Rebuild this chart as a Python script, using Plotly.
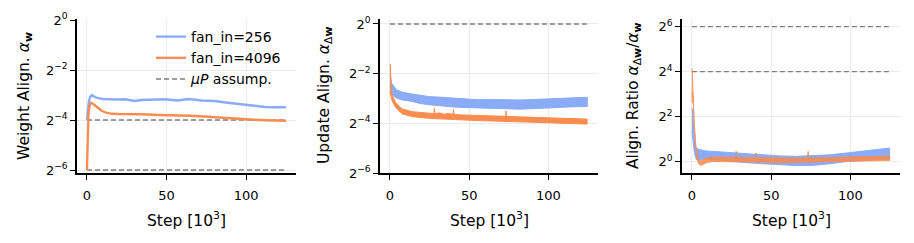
import plotly.graph_objects as go

# ---------------- data (values read as base-2 exponents) ----------------
# Panel 1: weight alignment
w256_steps = [0, 0.5, 1.2, 2, 3, 5, 7, 10, 13.4, 18, 24, 30, 34, 40, 49, 57, 64, 72, 80, 87, 93, 99, 106, 112, 118, 125]
w256_log2 = [-4.0, -3.6, -3.25, -3.08, -3.0, -3.08, -3.13, -3.16, -3.17, -3.18, -3.17, -3.24, -3.2, -3.19, -3.17,
             -3.22, -3.16, -3.22, -3.24, -3.3, -3.35, -3.4, -3.44, -3.48, -3.49, -3.49]
w4096_steps = [0, 0.4, 1, 1.6, 2.5, 4, 5.5, 7, 9, 11.3, 13.5, 15.5, 20, 27, 34, 45, 55, 65, 76, 86, 97, 105, 112, 118, 125]
w4096_log2 = [-6.0, -4.6, -3.75, -3.42, -3.31, -3.36, -3.45, -3.53, -3.62, -3.69, -3.73, -3.75, -3.76, -3.78, -3.77,
              -3.8, -3.81, -3.83, -3.87, -3.92, -3.97, -3.99, -4.01, -4.02, -4.03]

# Panel 2: update alignment (noisy band: upper / lower envelopes)
u256_steps = [0.2, 1.0, 4.2, 8, 14, 19, 24.4, 30, 34.8, 40, 45.2, 50, 55.6, 61, 66, 71, 76.4, 82, 86.8, 92, 97.3, 102,
              107.7, 113, 118, 124.5]
u256_upper = [-2.05, -2.38, -2.65, -2.75, -2.82, -2.88, -2.92, -2.94, -2.96, -2.99, -3.01, -3.02, -3.05, -3.04, -3.05,
              -3.04, -3.05, -3.06, -3.05, -3.04, -3.02, -3.0, -2.99, -2.97, -2.96, -2.95]
u256_lower = [-2.5, -2.83, -2.99, -3.06, -3.12, -3.2, -3.25, -3.29, -3.32, -3.34, -3.36, -3.38, -3.39, -3.41, -3.42,
              -3.41, -3.42, -3.43, -3.42, -3.41, -3.39, -3.38, -3.36, -3.34, -3.32, -3.32]

u4096_steps = [0.0, 0.3, 0.8, 1.4, 3.5, 7.7, 14, 24.4, 27.8, 28.1, 28.4, 31, 33, 34.8, 36, 39.8, 40.1, 40.4, 45, 55.6,
               66, 73.1, 73.3, 73.5, 76.4, 87, 97.3, 110, 124.4]
u4096_upper = [-1.61, -1.7, -2.65, -2.86, -3.15, -3.42, -3.53, -3.6, -3.61, -3.39, -3.62, -3.58, -3.6, -3.64, -3.6,
               -3.64, -3.43, -3.64, -3.66, -3.69, -3.71, -3.72, -3.5, -3.72, -3.73, -3.75, -3.79, -3.81, -3.83]
u4096_lower = [-2.75, -2.85, -2.92, -3.1, -3.35, -3.62, -3.73, -3.8, -3.81, -3.81, -3.81, -3.82, -3.83, -3.84, -3.84,
               -3.85, -3.85, -3.85, -3.86, -3.89, -3.91, -3.92, -3.92, -3.92, -3.93, -3.95, -3.99, -4.01, -4.03]

# Panel 3: alignment ratio (noisy band: upper / lower envelopes)
r256_steps = [0.0, 0.3, 1.5, 2.7, 4.2, 6.3, 9.4, 13.6, 24, 34.6, 45, 55.5, 66, 76.5, 87, 97.5, 108, 118.4, 124.7]
r256_upper = [2.38, 2.3, 1.0, 0.6, 0.55, 0.5, 0.47, 0.45, 0.4, 0.33, 0.28, 0.25, 0.23, 0.25, 0.3, 0.38, 0.47, 0.55, 0.6]
r256_lower = [1.34, 1.2, 0.4, 0.1, 0.05, 0.1, 0.1, 0.08, 0.02, -0.05, -0.1, -0.15, -0.18, -0.17, -0.1, 0.0, 0.05, 0.1, 0.1]

r4096_steps = [0.0, 0.3, 0.7, 1.5, 2.7, 4.2, 5.5, 7, 9.4, 13.6, 24, 27.7, 27.9, 28.1, 34.6, 40.3, 40.5, 40.7, 45, 55.5,
               66, 73.1, 73.3, 73.5, 76.5, 87, 97.5, 108, 118, 124.7]
r4096_upper = [4.16, 4.0, 3.1, 1.7, 0.5, 0.1, 0.02, 0.08, 0.16, 0.2, 0.2, 0.19, 0.46, 0.19, 0.18, 0.17, 0.38, 0.17, 0.17,
               0.15, 0.15, 0.16, 0.46, 0.16, 0.16, 0.18, 0.2, 0.22, 0.24, 0.25]
r4096_lower = [3.1, 2.6, 2.9, 1.5, 0.3, -0.1, -0.18, -0.12, -0.04, 0.0, 0.0, 0.0, 0.0, 0.0, -0.02, -0.03, -0.03, -0.03,
               -0.03, -0.05, -0.05, -0.04, -0.04, -0.04, -0.04, -0.02, 0.0, 0.02, 0.04, 0.05]

# muP assumption reference levels (base-2 exponents)
mup_steps = [0, 125]
mup_weight = [-4, -6]
mup_update = [0]
mup_ratio = [4, 6]

# axis ticks (base-2 exponents)
yticks_1 = [-6, -4, -2, 0]
yticks_2 = [-6, -4, -2, 0]
yticks_3 = [0, 2, 4, 6]
xticks = [0, 50, 100]

labels = ["fan_in=256", "fan_in=4096", "<i>μP</i> assump."]

# ---------------- styling ----------------
BLUE = "#8aabf7"
ORANGE = "#f98c4e"
DASH = "#7f7f7f"
FONT = "DejaVu Sans"
W, H = 914, 243
TICK_SIZE = 13
TITLE_SIZE = 15.5


def p2(vals):
    return [2.0 ** v for v in vals]


def band(steps, upper, lower):
    xs = list(steps) + list(reversed(steps))
    ys = p2(upper) + list(reversed(p2(lower)))
    return xs, ys


fig = go.Figure()
DASHSTYLE = dict(color=DASH, width=1.4, dash="5px,3px")

# Panel 1
for lvl in mup_weight:
    fig.add_trace(go.Scatter(x=mup_steps, y=p2([lvl, lvl]), mode="lines", line=DASHSTYLE,
                             showlegend=False, xaxis="x", yaxis="y"))
fig.add_trace(go.Scatter(x=w256_steps, y=p2(w256_log2), mode="lines", name=labels[0],
                         line=dict(color=BLUE, width=2.3), xaxis="x", yaxis="y"))
fig.add_trace(go.Scatter(x=w4096_steps, y=p2(w4096_log2), mode="lines", name=labels[1],
                         line=dict(color=ORANGE, width=2.3), xaxis="x", yaxis="y"))
fig.add_trace(go.Scatter(x=[None], y=[None], mode="lines", name=labels[2], line=DASHSTYLE,
                         xaxis="x", yaxis="y"))

# Panel 2
for lvl in mup_update:
    fig.add_trace(go.Scatter(x=mup_steps, y=p2([lvl, lvl]), mode="lines", line=DASHSTYLE,
                             showlegend=False, xaxis="x2", yaxis="y2"))
bx, by = band(u256_steps, u256_upper, u256_lower)
fig.add_trace(go.Scatter(x=bx, y=by, mode="lines", fill="toself", fillcolor=BLUE,
                         line=dict(color=BLUE, width=1), showlegend=False, xaxis="x2", yaxis="y2"))
bx, by = band(u4096_steps, u4096_upper, u4096_lower)
fig.add_trace(go.Scatter(x=bx, y=by, mode="lines", fill="toself", fillcolor=ORANGE,
                         line=dict(color=ORANGE, width=1), showlegend=False, xaxis="x2", yaxis="y2"))

# Panel 3
for lvl in mup_ratio:
    fig.add_trace(go.Scatter(x=mup_steps, y=p2([lvl, lvl]), mode="lines", line=DASHSTYLE,
                             showlegend=False, xaxis="x3", yaxis="y3"))
bx, by = band(r256_steps, r256_upper, r256_lower)
fig.add_trace(go.Scatter(x=bx, y=by, mode="lines", fill="toself", fillcolor=BLUE,
                         line=dict(color=BLUE, width=1), showlegend=False, xaxis="x3", yaxis="y3"))
bx, by = band(r4096_steps, r4096_upper, r4096_lower)
fig.add_trace(go.Scatter(x=bx, y=by, mode="lines", fill="toself", fillcolor=ORANGE,
                         line=dict(color=ORANGE, width=1), opacity=0.88, showlegend=False,
                         xaxis="x3", yaxis="y3"))

L2 = 0.30103  # log10(2)


def ytick_text(vals):
    return ["2<sup>" + (str(v).replace("-", "−")) + "</sup>" for v in vals]


def xaxis(dom, anchor):
    return dict(domain=dom, anchor=anchor, range=[-6.25, 131.25], tickvals=xticks,
                ticktext=[str(t) for t in xticks], showgrid=True, gridcolor="#ebebeb", gridwidth=1,
                zeroline=False, showline=True, linecolor="black", linewidth=1.5, automargin=False,
                ticks="outside", ticklen=5, tickwidth=1.2, tickcolor="black", ticklabelstandoff=5,
                tickfont=dict(family=FONT, size=TICK_SIZE, color="black"))


def yaxis(dom, anchor, rng, ticks):
    return dict(domain=dom, anchor=anchor, type="log", range=[rng[0] * L2, rng[1] * L2],
                tickvals=p2(ticks), ticktext=ytick_text(ticks), showgrid=True, gridcolor="#ebebeb",
                gridwidth=1, zeroline=False, showline=True, linecolor="black", linewidth=1.5,
                automargin=False, ticks="outside", ticklen=5, tickwidth=1.2, tickcolor="black",
                tickfont=dict(family=FONT, size=TICK_SIZE, color="black"))


ydom = [(H - 173) / H, (H - 19) / H]
fig.update_layout(
    width=W, height=H, margin=dict(l=0, r=0, t=0, b=0, autoexpand=False),
    paper_bgcolor="white", plot_bgcolor="white",
    font=dict(family=FONT, color="black"),
    xaxis=xaxis([77 / W, 296 / W], "y"),
    yaxis=yaxis(ydom, "x", [-6.12, 0.04], yticks_1),
    xaxis2=xaxis([380 / W, 598 / W], "y2"),
    yaxis2=yaxis(ydom, "x2", [-6.0, 0.2], yticks_2),
    xaxis3=xaxis([682 / W, 900 / W], "y3"),
    yaxis3=yaxis(ydom, "x3", [-0.51, 6.34], yticks_3),
    legend=dict(x=151 / W, y=1 - 21 / H, xanchor="left", yanchor="top", bgcolor="rgba(0,0,0,0)",
                font=dict(family=FONT, size=14, color="black"), itemwidth=30, tracegroupgap=0),
    showlegend=True,
)

ytitles = ["Weight Align. <i>α</i><sub><b>w</b></sub>",
           "Update Align. <i>α</i><sub>Δ<b>w</b></sub>",
           "Align. Ratio <i>α</i><sub>Δ<b>w</b></sub>/<i>α</i><sub><b>w</b></sub>"]
ytitle_x = [25, 325, 634]
for t, xp in zip(ytitles, ytitle_x):
    fig.add_annotation(text=t, x=xp / W, y=1 - 96 / H, xref="paper", yref="paper", showarrow=False,
                       textangle=-90, xanchor="center", yanchor="middle",
                       font=dict(family=FONT, size=TITLE_SIZE, color="black"))
for xc in [186.5, 489, 791]:
    fig.add_annotation(text="Step [10<sup>3</sup>]", x=xc / W, y=1 - 219 / H, xref="paper", yref="paper",
                       showarrow=False, xanchor="center", yanchor="middle",
                       font=dict(family=FONT, size=TITLE_SIZE, color="black"))

fig.write_html("out.html", config={"displayModeBar": False},
               post_script="document.body.style.margin='0';document.body.style.padding='0';"
                           "document.body.style.overflow='hidden';")
